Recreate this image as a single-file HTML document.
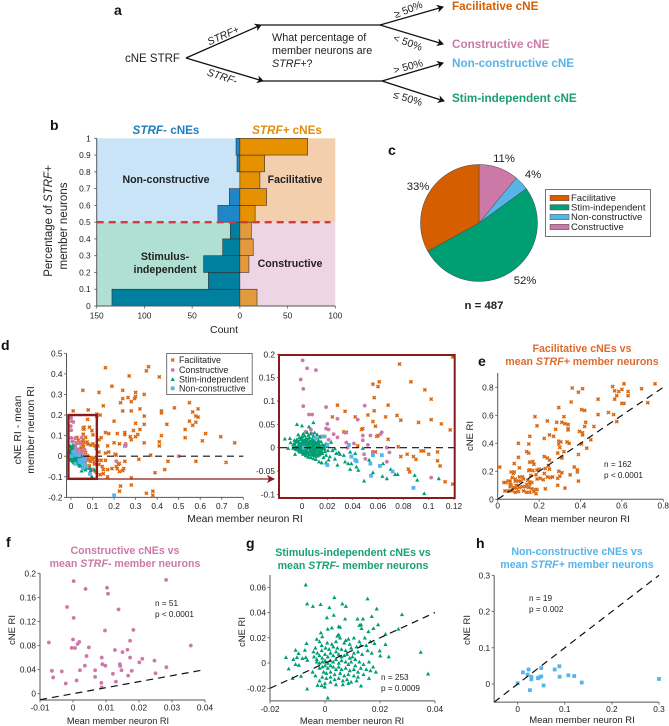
<!DOCTYPE html>
<html lang="en">
<head>
<meta charset="utf-8">
<title>cNE classification figure</title>
<style>
html,body{margin:0;padding:0;background:#fff;}
svg{display:block;font-family:"Liberation Sans",Arial,sans-serif;filter:blur(0.3px);}
text{fill:#222;}
.panel{font-size:14px;font-weight:bold;fill:#111;}
.tb{font-weight:bold;font-size:10.6px;}
.ob{font-weight:bold;font-size:11.7px;}
</style>
</head>
<body>
<svg id="fig" xmlns="http://www.w3.org/2000/svg" width="669" height="726" viewBox="0 0 669 726">
<defs>
<marker id="stealth" markerWidth="8" markerHeight="8" refX="6" refY="4" orient="auto" markerUnits="userSpaceOnUse">
<path d="M0,0 L7,4 L0,8 L2,4 Z" fill="#111"></path>
</marker>
<marker id="redArrow" markerWidth="9" markerHeight="9" refX="7" refY="4.5" orient="auto" markerUnits="userSpaceOnUse">
<path d="M0,0.5 L8,4.5 L0,8.5 L2,4.5 Z" fill="#8b1a1a"></path>
</marker>
</defs>

<g>
<text class="panel" x="114" y="15">a</text>
<text x="125" y="62" font-size="11.5">cNE STRF</text>
<g fill="none" stroke="#111" stroke-width="1.3">
<path d="M186,58 L261,25" marker-end="url(#stealth)"></path>
<path d="M186,58 L263,81" marker-end="url(#stealth)"></path>
<path d="M261,25 L380,25"></path>
<path d="M263,81 L382,81"></path>
<path d="M380,25 L443,7" marker-end="url(#stealth)"></path>
<path d="M380,25 L443,44" marker-end="url(#stealth)"></path>
<path d="M382,81 L443,63" marker-end="url(#stealth)"></path>
<path d="M382,81 L444,101" marker-end="url(#stealth)"></path>
</g>
<text x="223" y="39" font-size="10.5" font-style="italic" text-anchor="middle" transform="rotate(-24 223 35)">STRF+</text>
<text x="222" y="80" font-size="10.5" font-style="italic" text-anchor="middle" transform="rotate(18 222 77)">STRF-</text>
<text x="272" y="41" font-size="10.8">What percentage of</text>
<text x="272" y="54" font-size="10.8">member neurons are</text>
<text x="272" y="67" font-size="10.8"><tspan font-style="italic">STRF+</tspan>?</text>
<text x="408" y="13" font-size="10.5" text-anchor="middle" transform="rotate(-22 408 9)">≥ 50%</text>
<text x="408" y="46" font-size="10.5" text-anchor="middle" transform="rotate(20 408 42)">&lt; 50%</text>
<text x="408" y="70" font-size="10.5" text-anchor="middle" transform="rotate(-15 408 66)">&gt; 50%</text>
<text x="408" y="102" font-size="10.5" text-anchor="middle" transform="rotate(17 408 98)">≤ 50%</text>
<text x="452" y="10" class="ob" style="fill:#d55e00">Facilitative cNE</text>
<text x="452" y="48" class="ob" style="fill:#cc79a7">Constructive cNE</text>
<text x="452" y="67" class="ob" style="fill:#56b4e9">Non-constructive cNE</text>
<text x="452" y="102" class="ob" style="fill:#1a9e77">Stim-independent cNE</text>
</g>

<g id="panelB">
<text class="panel" x="50" y="130">b</text>
</g>
<g>
<text x="166" y="134" class="ob" text-anchor="middle" style="fill:#1f7fbf"><tspan font-style="italic">STRF-</tspan> cNEs</text>
<text x="287" y="134" class="ob" text-anchor="middle" style="fill:#e08e0b"><tspan font-style="italic">STRF+</tspan> cNEs</text>
<text x="166" y="183" font-size="10.6" font-weight="bold" text-anchor="middle">Non-constructive</text>
<text x="295" y="183" font-size="10.6" font-weight="bold" text-anchor="middle">Facilitative</text>
<text x="165" y="260" font-size="10.6" font-weight="bold" text-anchor="middle">Stimulus-</text>
<text x="165" y="273" font-size="10.6" font-weight="bold" text-anchor="middle">independent</text>
<text x="290" y="267" font-size="10.6" font-weight="bold" text-anchor="middle">Constructive</text>
<text x="224" y="333" font-size="10.5" text-anchor="middle">Count</text>
<text transform="translate(52 221) rotate(-90)" font-size="11.5" text-anchor="middle">Percentage of <tspan font-style="italic">STRF+</tspan></text>
<text transform="translate(67 226) rotate(-90)" font-size="11.5" text-anchor="middle">member neurons</text>
</g>

<g id="panelC">
<text class="panel" x="388" y="155">c</text>
<text x="484" y="309" font-size="11.4" font-weight="bold" text-anchor="middle">n = 487</text>
<rect x="545.5" y="189.5" width="105" height="47" fill="#fff" stroke="#777"></rect>
</g>

<g id="panelD">
<text class="panel" x="1" y="350">d</text>
<text transform="translate(21 430) rotate(-90)" font-size="10.5" text-anchor="middle">cNE RI - mean</text>
<text transform="translate(34 430) rotate(-90)" font-size="10.5" text-anchor="middle">member neuron RI</text>
<text x="245" y="522" font-size="10.4" text-anchor="middle">Mean member neuron RI</text>
</g>

<g id="panelE">
<text class="panel" x="478" y="366">e</text>
<text x="582" y="352" class="tb" text-anchor="middle" style="fill:#dd6b2c">Facilitative cNEs vs</text>
<text x="582" y="365" class="tb" text-anchor="middle" style="fill:#dd6b2c">mean <tspan font-style="italic">STRF+</tspan> member neurons</text>
<text transform="translate(473 436) rotate(-90)" font-size="9.5" text-anchor="middle">cNE RI</text>
<text x="577" y="522" font-size="9.5" text-anchor="middle">Mean member neuron RI</text>
<text x="604" y="467" font-size="8.2">n = 162</text>
<text x="604" y="478" font-size="8.2">p &lt; 0.0001</text>
</g>

<g id="panelF">
<text class="panel" x="6" y="547">f</text>
<text x="125" y="554" class="tb" text-anchor="middle" style="fill:#cc79a7">Constructive cNEs vs</text>
<text x="125" y="567" class="tb" text-anchor="middle" style="fill:#cc79a7">mean <tspan font-style="italic">STRF-</tspan> member neurons</text>
<text transform="translate(15 630) rotate(-90)" font-size="9.5" text-anchor="middle">cNE RI</text>
<text x="118" y="724" font-size="9.2" text-anchor="middle">Mean member neuron RI</text>
<text x="155" y="606" font-size="8.2">n = 51</text>
<text x="155" y="617" font-size="8.2">p &lt; 0.0001</text>
</g>

<g id="panelG">
<text class="panel" x="246" y="548">g</text>
<text x="353" y="556" class="tb" text-anchor="middle" style="fill:#1a9e77">Stimulus-independent cNEs vs</text>
<text x="353" y="569" class="tb" text-anchor="middle" style="fill:#1a9e77">mean <tspan font-style="italic">STRF-</tspan> member neurons</text>
<text transform="translate(245 632) rotate(-90)" font-size="9.5" text-anchor="middle">cNE RI</text>
<text x="352" y="724" font-size="9.4" text-anchor="middle">Mean member neuron RI</text>
<text x="381" y="680" font-size="8.2">n = 253</text>
<text x="381" y="691" font-size="8.2">p = 0.0009</text>
</g>

<g id="panelH">
<text class="panel" x="476" y="548">h</text>
<text x="577" y="555" class="tb" text-anchor="middle" style="fill:#56b4e9">Non-constructive cNEs vs</text>
<text x="577" y="568" class="tb" text-anchor="middle" style="fill:#56b4e9">mean <tspan font-style="italic">STRF+</tspan> member neurons</text>
<text transform="translate(470 630) rotate(-90)" font-size="9.5" text-anchor="middle">cNE RI</text>
<text x="582" y="723" font-size="9.5" text-anchor="middle">Mean member neuron RI</text>
<text x="529" y="601" font-size="8.2">n = 19</text>
<text x="529" y="612" font-size="8.2">p = 0.002</text>
</g>
</svg>

<script>
// ---------- Panel b: histogram data ----------
const binEdges = [0, 0.1, 0.2, 0.3, 0.4, 0.5, 0.6, 0.7, 0.8, 0.9, 1];
const strfMinusCounts = [134, 33, 38, 18, 10, 23, 11, 0, 3, 4];
const strfPlusCounts = [18, 0, 9.5, 14, 12, 16, 28, 21, 26, 71];
const bTicksX = [150, 100, 50, 0, 50, 100];
const bTickSigned = [-150, -100, -50, 0, 50, 100];
const bTicksY = [0, 0.1, 0.2, 0.3, 0.4, 0.5, 0.6, 0.7, 0.8, 0.9, 1];
const bThreshold = 0.5;

// ---------- Panel c: pie data ----------
const pieLabels = ['Constructive', 'Non-constructive', 'Stim-independent', 'Facilitative'];
const pieValues = [11, 4, 52, 33];
const pieText = ['11%', '4%', '52%', '33%'];
const legendOrder = ['Facilitative', 'Stim-independent', 'Non-constructive', 'Constructive'];

// ---------- Panel d: RI difference scatter (shared by main plot and inset) ----------
const dTicksX = [0, 0.1, 0.2, 0.3, 0.4, 0.5, 0.6, 0.7, 0.8];
const dTicksY = [-0.2, -0.1, 0, 0.1, 0.2, 0.3, 0.4, 0.5];
const insetTicksX = [0, 0.02, 0.04, 0.06, 0.08, 0.1, 0.12];
const insetTicksY = [-0.1, -0.05, 0, 0.05, 0.1, 0.15, 0.2];
const dFacilitative = [[.16,.43],[.36,.435],[.35,.415],[.27,.39],[.41,.385],[.19,.34],[.24,.32],[.055,.32],[.13,.31],[.30,.31],[.34,.30],[.30,.29],[.295,.28],[.265,.285],[.24,.28],[.23,.26],[.28,.265],[.55,.26],[.15,.245],[.48,.235],[.59,.23],[.32,.23],[.01,.22],[.08,.225],[.24,.22],[.28,.22],[.42,.22],[.42,.21],[.565,.215],[.34,.195],[.58,.195],[.59,.19],[.12,.205],[.135,.2],[.20,.17],[.55,.17],[.58,.165],[.565,.15],[.30,.16],[.34,.155],[.445,.155],[.32,.13],[.29,.125],[.53,.13],[.16,.115],[.175,.11],[.215,.11],[.25,.115],[.25,.105],[.31,.105],[.30,.095],[.275,.095],[.28,.08],[.42,.10],[.625,.11],[.53,.09],[.695,.095],[.61,.075],[.41,.07],[.34,.065],[.41,.05],[.76,.065],[.20,.065],[.225,.06],[.17,.05],[.25,.05],[.16,.015],[.175,.02],[.205,.01],[.21,.005],[.37,.005],[.315,-.015],[.25,-.025],[.225,-.035],[.22,-.04],[.45,-.025],[.58,-.025],[.72,-.03],[.16,-.02],[.19,-.06],[.15,-.065],[.15,-.085],[.17,-.065],[.21,-.05],[.215,-.06],[.225,-.075],[.24,-.07],[.245,-.06],[.435,-.065],[.39,-.08],[.17,-.10],[.28,-.105],[.28,-.14],[.23,-.145],[.225,-.17],[.35,-.18],[.38,-.17],[.38,-.19],
[.077,.179],[.086,.141],[.056,.136],[.061,.141],[.060,.131],[.097,.124],[.102,.104],[.057,.107],[.068,.091],[.028,.091],[.034,.078],[.057,.079],[.024,.066],[.042,.066],[.052,.07],[.066,.066],[.075,.069],[.078,.059],[.056,.056],[.092,.054],[.102,.06],[.11,.051],[.117,.038],[.058,.046],[.048,.041],[.047,.039],[.033,.034],[.035,.033],[.068,.018],[.059,.024],[.060,.026],[.076,.002],[.044,.004],[.056,-.009],[.058,-.009],[.078,-.019],[.083,-.014],[.088,-.019],[.09,-.025],[.094,-.007],[.096,-.007],[.1,-.014],[.107,-.009],[.107,-.028],[.109,-.039],[.084,-.046],[.085,-.052],[.113,-.073],[.119,-.078],[.119,.194],[.13,.08],[.125,.05],[.13,.02],[.125,-.02],[.13,-.04],[.14,-.02],[.145,-.05],[.135,-.09],[.14,.09]];
const dConstructive = [[.0005,.187],[.004,.17],[.011,.166],[-.001,.146],[.001,.126],[.001,.089],[.019,.087],[.0055,.071],[.008,.071],[.028,.062],[.02,.051],[.019,.041],[.021,.039],[.007,.039],[.0075,.031],[.003,.034],[.025,.029],[.028,.022],[.018,.024],[.015,.024],[.0495,.09],[.044,.06],[.034,.032],[.048,.026],[.054,.026],[.063,.033],[.062,.029],[.048,.016],[.052,.006],[.041,.009],[.036,0],[.067,0],[.069,-.01],[.056,-.009],[.049,-.014],[.05,-.024],[.067,-.03],[.102,-.064],[.035,.011],[.021,.017],[.5,0],[.254,.06],[.21,-.024],[.254,.05]];
const dStimIndependent = [[-.004,.05],[0,.047],[.009,.054],[.0055,.045],[-.0135,.019],[-.0095,.02],[-.009,.011],[-.0055,-.014],[-.011,-.001],[-.007,-.001],[.0135,-.03],[.0155,-.032],[.019,-.032],[.021,-.026],[.028,-.037],[.026,-.024],[.027,-.012],[.029,-.01],[.03,-.014],[.033,-.016],[.034,-.03],[.0365,-.034],[.039,-.034],[.038,-.046],[.043,-.041],[.0445,-.048],[.049,-.071],[.053,-.026],[.056,-.053],[.064,-.034],[.0635,-.061],[.067,-.066],[.07,-.046],[.0735,-.057],[.0755,-.057],[.089,-.059],[.091,-.069],[.0965,-.098],[.108,-.066],[.048,-.001],[.038,-.009],[.042,-.012],
[-.003,.028],[-.002,.022],[-.001,.018],[0,.024],[.001,.03],[.002,.026],[.003,.02],[.004,.033],[.005,.027],[.006,.022],[.007,.03],[.008,.018],[.009,.025],[.01,.032],[.011,.021],[.012,.028],[.013,.016],[.014,.023],[-.006,.016],[-.004,.012],[-.002,.01],[0,.014],[.001,.011],[.002,.016],[.003,.008],[.004,.013],[.005,.01],[.006,.015],[.007,.009],[.008,.012],[.009,.006],[.01,.014],[.011,.009],[.012,.004],[.013,.011],[.014,.005],[.015,.013],[.016,.007],[-.007,.006],[-.005,.003],[-.003,.005],[-.001,.002],[0,.006],[.001,.001],[.002,.004],[.003,0],[.004,.005],[.005,-.001],[.006,.003],[.007,-.002],[.008,.004],[.009,-.003],[.01,.002],[.011,-.004],[.012,-.001],[.013,.001],[.015,-.003],[.017,.002],[.018,-.002],[.02,.003],[-.004,-.004],[-.002,-.003],[0,-.006],[.001,-.008],[.002,-.005],[.003,-.01],[.004,-.007],[.005,-.012],[.006,-.008],[.007,-.014],[.008,-.01],[.009,-.016],[.01,-.011],[.011,-.018],[.012,-.013],[.013,-.009],[.014,-.015],[.016,-.012],[.018,-.008],[.019,-.016],[.001,-.014],[.003,-.017],[.005,-.02],[.007,-.021],[.009,-.023],[.011,-.025],[.017,-.021],[.022,-.019],[.024,-.006],[.023,.012],[.026,-.002],
[-.006,.009],[-.005,.013],[-.004,.018],[-.003,.014],[-.002,.006],[-.001,.009],[-.0005,.021],[.0005,.018],[.0015,.007],[.0025,.012],[.0035,.016],[.0045,.019],[.0055,.005],[.0065,.011],[.0075,.014],[.0085,.008],[.0095,.017],[.0105,.011],[.0115,.006],[.0125,.014],[-.005,-.003],[-.0035,-.001],[-.0025,-.007],[-.0015,-.009],[-.0005,-.004],[.0005,-.011],[.0015,-.003],[.0025,-.013],[.0035,-.004],[.0045,-.009],[.0055,-.015],[.0065,-.006],[.0075,-.012],[.0085,-.005],[.0095,-.008],[.0105,-.014],[.0115,-.007],[.0125,-.017],[.0135,-.006],[.0145,-.011],[.0155,-.008],[.0165,-.002],[.0175,.005],[.019,.009],[.0205,-.006],[.014,.002],[.0125,.007],[.0115,.001],[.0065,.001],[.0035,.003],[.0015,.003],[-.0015,-.001],[.004,.0],[.008,.001],[.01,-.001]];
const dNonConstructive = [[.0015,0],[.011,.02],[.0175,.024],[.02,.006],[.02,-.037],[.037,.006],[.039,-.019],[.042,-.026],[.043,-.029],[.054,-.034],[.056,-.016],[.063,-.016],[.0615,-.039],[.0545,-.06],[.0715,-.051],[.088,-.086],[.2,-.19]];

// ---------- Panel e: facilitative ----------
const eTicks = [0, 0.2, 0.4, 0.6, 0.8];
const ePoints = [[.76,.825],[.695,.79],[.725,.69],[.61,.825],[.60,.785],[.555,.805],[.565,.775],[.585,.77],[.63,.77],[.575,.74],[.565,.715],[.63,.74],[.61,.685],[.6,.685],[.485,.715],[.41,.79],[.36,.795],[.39,.765],[.355,.695],[.295,.655],[.405,.64],[.42,.635],[.535,.62],[.56,.605],[.485,.605],[.18,.59],[.32,.59],[.31,.55],[.24,.56],[.285,.55],[.325,.54],[.34,.535],[.19,.525],[.425,.55],[.42,.52],[.465,.52],[.34,.505],[.34,.495],[.28,.5],[.575,.555],[.395,.485],[.41,.475],[.41,.46],[.25,.46],[.225,.435],[.27,.45],[.155,.45],[.15,.395],[.1,.4],[.295,.415],[.305,.41],[.335,.41],[.345,.4],[.295,.395],[.405,.395],[.45,.425],[.43,.365],[.3,.37],[.29,.33],[.32,.34],[.15,.33],[.14,.34],[.1,.30],[.155,.265],[.17,.27],[.175,.25],[.08,.255],[.105,.225],[.225,.305],[.24,.295],[.25,.28],[.245,.24],[.23,.22],[.31,.3],[.31,.295],[.39,.32],[.37,.23],[.385,.195],[.385,.21],[.35,.175],[.39,.13],[.325,.08],[.29,.1],[.29,.15],[.3,.165],[.295,.2],[.31,.19],[.255,.155],[.265,.16],[.24,.16],[.22,.14],[.23,.075],[.225,.185],[.25,.215],[.2,.215],[.19,.21],[.185,.175],[.15,.205],[.155,.21],[.17,.205],[.16,.17],[.19,.145],[.205,.15],[.01,.23],[.065,.195],[.075,.185],[.08,.195],[.07,.155],[.085,.145],[.085,.13],[.05,.13],[.06,.13],[.04,.12],[.03,.12],[.105,.16],[.12,.16],[.125,.145],[.1,.13],[.11,.13],[.145,.135],[.155,.125],[.165,.12],[.155,.11],[.14,.105],[.06,.09],[.075,.085],[.08,.08],[.09,.08],[.105,.085],[.12,.09],[.135,.09],[.15,.085],[.165,.075],[.18,.07],[.19,.07],[.185,.04],[.155,.05],[.14,.05],[.125,.06],[.1,.055],[.085,.05],[.07,.06],[.05,.06],[.035,.06],[.065,.1],[.09,.1],[.06,.11],[.175,.055]];

// ---------- Panel f: constructive ----------
const fTicksX = [-0.01, 0, 0.01, 0.02, 0.03, 0.04];
const fTicksY = [0, 0.04, 0.08, 0.12, 0.16, 0.2];
const fPoints = [[.0002,.187],[.0282,.189],[.0038,.174],[.0103,.176],[.0106,.166],[-.0018,.144],[.0138,.14],[.0002,.126],[.0097,.105],[.0183,.106],[0,.09],[-.0073,.085],[.0019,.086],[.0014,.0825],[-.0004,.076],[.0006,.076],[.0048,.077],[.0173,.088],[.0357,.08],[.0127,.0725],[.0165,.073],[.015,.069],[.0041,.0625],[.0087,.06],[.0173,.06],[.021,.058],[.0247,.055],[.0201,.052],[.0089,.049],[.0098,.0465],[.0142,.049],[.0143,.046],[.0036,.0465],[.0283,.044],[-.0064,.038],[-.0034,.037],[.0021,.039],[.0067,.039],[.0147,.039],[.0178,.038],[.0121,.033],[.025,.034],[.0067,.028],[-.006,.027],[.0167,.03],[.0011,.022],[.013,.02],[-.0022,.017],[.0086,.018],[.0087,.0105]];

// ---------- Panel g: stimulus-independent ----------
const gTicksX = [-0.02, 0, 0.02, 0.04];
const gTicksY = [-0.02, 0, 0.02, 0.04, 0.06];
const gPoints = [[-.007,.062],[-.0065,.047],[-.0044,.045],[-.0016,.0465],[.0016,.044],[.0034,.052],[.0063,.047],[.0076,.045],[.0155,.051],[.0188,.043],[.028,.0385],[.017,.037],[.0118,.035],[.0138,.035],[.0007,.036],[.0032,.038],[.0073,.035],[.0125,.030],[.0131,.0305],[.0133,.0275],[.0193,.0305],[.0176,.0275],[.022,.023],[.0267,.027],[.0158,.025],[.0348,.0087],[.0375,-.0085],[.0232,.005],[.0201,.0058],[.0199,.0098],[.022,.0148],[.018,.0156],[.001,-.0275],[-.0065,-.0204],[.0131,-.018],[-.0001,-.0188],[-.0027,-.0175],[-.0012,-.0177],[-.0142,.0045],[-.0132,-.0045],[-.0115,.003],[-.0107,.0103],[-.0102,.0045],[-.0107,-.001],[-.0095,-.0016],[-.0096,.0077],[-.0087,-.0103],[-.0118,-.012],[-.0082,.0037],[-.007,.0045],[-.0073,.0103],[-.0067,.0156],[-.0064,.0024],
[-.003,.019],[-.0015,.024],[-.001,.021],[.001,.027],[.0025,.028],[.005,.029],[.0055,.0285],[.0045,.0215],[.005,.0225],[.0055,.02],[.0075,.018],[.0085,.019],[.0105,.02],[.0125,.017],[.0145,.02],[.0165,.017],[.015,.014],[.013,.014],[.0115,.013],[.009,.015],[.007,.016],[.004,.017],[.0025,.015],[.0008,.016],[-.0012,.014],[-.002,.017],[-.0035,.012],[-.0042,.009],[-.0028,.008],[-.0012,.01],[.0002,.012],[.0015,.011],[.003,.013],[.0045,.012],[.006,.011],[.0075,.01],[.0095,.012],[.0105,.008],[.012,.009],[.0135,.007],[.0155,.01],[.017,.008],[-.004,.005],[-.003,.003],[-.002,.006],[-.001,.004],[0,.007],[.001,.005],[.002,.008],[.003,.006],[.004,.009],[.005,.007],[.006,.005],[.007,.006],[.008,.007],[.009,.004],[.01,.005],[.011,.003],[-.003,.001],[-.002,.0],[-.001,.001],[0,.002],[.001,.0],[.002,.002],[.003,.001],[.004,.003],[.005,.0],[.006,.002],[.0075,.001],[.0085,-.001],[.0095,.001],[.011,-.002],[.0125,.001],[.014,-.001],[.016,.001],[-.002,-.004],[-.001,-.003],[0,-.002],[.001,-.004],[.002,-.002],[.003,-.003],[.004,-.005],[.005,-.003],[.006,-.005],[.0075,-.004],[.009,-.006],[.0105,-.005],[.012,-.007],[.013,-.004],[.015,-.005],[.0165,-.006],[.0175,-.003],[-.0005,-.007],[.0005,-.008],[.002,-.007],[.0035,-.009],[.0055,-.008],[.007,-.01],[.0085,-.009],[.0105,-.01],[.012,-.011],[.014,-.009],[-.001,-.011],[.0005,-.012],[.002,-.011],[.0035,-.013],[.005,-.012],[.0065,-.014],[.008,-.013],[.0095,-.015],[.0115,-.014],[-.002,-.014],[0,-.016],[.002,-.015],[.004,-.017],[.0065,-.017],[.0085,-.016],[-.0035,-.01],[-.0045,-.007],[.0185,-.007],[.016,-.012]];

// ---------- Panel h: non-constructive ----------
const hTicks = [0, 0.1, 0.2, 0.3];
const hPoints = [[0,.002],[.011,.032],[.023,.04],[.021,.026],[.029,.02],[.029,.013],[.026,-.017],[.043,.016],[.045,.018],[.05,.044],[.05,.021],[.055,-.004],[.0785,.04],[.0885,.049],[.089,.02],[.1075,.024],[.12,.022],[.136,.004],[.3,.014]];

// ---------- Colours ----------
const COL = {fac:'#d55e00', con:'#cc79a7', stim:'#009e73', non:'#56b4e9'};
const NS = 'http://www.w3.org/2000/svg';
const TICK_FONT = 8.3;

function make(parent, tag, attrs, text) {
  const el = document.createElementNS(NS, tag);
  for (const k in attrs) el.setAttribute(k, attrs[k]);
  if (text !== undefined) el.textContent = text;
  parent.appendChild(el);
  return el;
}
function tag(el, name) {
  
  
  return el;
}
function linear(d0, d1, r0, r1) {
  return v => r0 + (v - d0) * (r1 - r0) / (d1 - d0);
}
function yAxis(g, sx, sy, ticks, yTop, yBottom, label, name) {
  const x0 = sx;
  tag(make(g, 'line', {x1:x0, x2:x0, y1:yTop, y2:yBottom, stroke:'#555', 'stroke-width':1}), name + '-y-axis');
  ticks.forEach(t => {
    tag(make(g, 'line', {x1:x0 - 2.5, x2:x0, y1:sy(t), y2:sy(t), stroke:'#555', 'stroke-width':0.8}), name + '-y-tick');
    tag(make(g, 'text', {x:x0 - label, y:sy(t) + 3, 'font-size':TICK_FONT, 'text-anchor':'end'}, String(t)), name + '-y-tick-label');
  });
}
function xAxis(g, sx, y0, ticks, xLeft, xRight, baseline, name, texts) {
  tag(make(g, 'line', {x1:xLeft, x2:xRight, y1:y0, y2:y0, stroke:'#555', 'stroke-width':1}), name + '-x-axis');
  ticks.forEach((t, i) => {
    tag(make(g, 'line', {x1:sx(t), x2:sx(t), y1:y0, y2:y0 + 2.5, stroke:'#555', 'stroke-width':0.8}), name + '-x-tick');
    tag(make(g, 'text', {x:sx(t), y:baseline, 'font-size':TICK_FONT, 'text-anchor':'middle'}, texts ? String(texts[i]) : String(t)), name + '-x-tick-label');
  });
}
function facMark(g, x, y) {
  const s = 1.5;
  const m = make(g, 'path', {d:`M${x-s-.4},${y-s-.4}h${2*s+.8}v${2*s+.8}h${-2*s-.8}Z`, fill:'#f2b690', 'fill-opacity':0.55});
  tag(m, 'facilitative-point-halo');
  const p = make(g, 'path', {d:`M${x-s},${y-s}L${x+s},${y+s}M${x-s},${y+s}L${x+s},${y-s}`, stroke:COL.fac, 'stroke-width':1.2, fill:'none'});
  return tag(p, 'facilitative-point');
}
function conMark(g, x, y) {
  return tag(make(g, 'circle', {cx:x, cy:y, r:1.9, fill:COL.con}), 'constructive-point');
}
function stimMark(g, x, y) {
  const s = 2.1;
  return tag(make(g, 'path', {d:`M${x},${y-s}L${x+s},${y+s*0.8}L${x-s},${y+s*0.8}Z`, fill:COL.stim}), 'stim-independent-point');
}
function nonMark(g, x, y) {
  return tag(make(g, 'rect', {x:x-1.9, y:y-1.9, width:3.8, height:3.8, fill:COL.non}), 'non-constructive-point');
}
function dash(g, x1, y1, x2, y2, name) {
  return tag(make(g, 'line', {x1, y1, x2, y2, stroke:'#111', 'stroke-width':1.2, 'stroke-dasharray':'7 5'}), name);
}

// ---------- Draw panel b ----------
(function () {
  const g = document.getElementById('panelB');
  const sx = linear(-150, 100, 96.7, 335.3);
  const sy = linear(0, 1, 306, 138.3);
  const regions = [
    [-150, 0, bThreshold, 1, '#c9e4f6', 'region-bg-non-constructive'],
    [0, 100, bThreshold, 1, '#f3cfae', 'region-bg-facilitative'],
    [-150, 0, 0, bThreshold, '#b0e0d2', 'region-bg-stim-independent'],
    [0, 100, 0, bThreshold, '#eed5e5', 'region-bg-constructive']
  ];
  regions.forEach(r => {
    tag(make(g, 'rect', {x:sx(r[0]), y:sy(r[3]), width:sx(r[1]) - sx(r[0]), height:sy(r[2]) - sy(r[3]), fill:r[4]}), r[5]);
  });
  strfMinusCounts.forEach((c, i) => {
    if (!c) return;
    const lo = binEdges[i], hi = binEdges[i + 1];
    tag(make(g, 'rect', {x:sx(-c), y:sy(hi), width:sx(0) - sx(-c), height:sy(lo) - sy(hi), fill:lo >= bThreshold ? '#1f86c8' : '#007f9f', stroke:'#333', 'stroke-width':0.6}), 'bar-strf-minus');
  });
  strfPlusCounts.forEach((c, i) => {
    if (!c) return;
    const lo = binEdges[i], hi = binEdges[i + 1];
    tag(make(g, 'rect', {x:sx(0), y:sy(hi), width:sx(c) - sx(0), height:sy(lo) - sy(hi), fill:lo >= bThreshold ? '#e69100' : '#e39a3c', stroke:'#333', 'stroke-width':0.6}), 'bar-strf-plus');
  });
  tag(make(g, 'line', {x1:sx(-150), x2:sx(95), y1:sy(bThreshold), y2:sy(bThreshold), stroke:'#d9383a', 'stroke-width':2.4, 'stroke-dasharray':'7 5'}), 'threshold-line');
  yAxis(g, sx(-150), sy, bTicksY, sy(1), sy(0), 6, 'b');
  xAxis(g, sx, sy(0), bTickSigned, sx(-150), sx(100), 318.5, 'b', bTicksX);
})();

// ---------- Draw panel c ----------
(function () {
  const g = document.getElementById('panelC');
  const cx = 479, cy = 223, r = 58.5;
  const colors = {Constructive:COL.con, 'Non-constructive':COL.non, 'Stim-independent':COL.stim, Facilitative:COL.fac};
  const labelPos = [[504, 158], [533, 174], [525, 280], [418, 186]];
  const total = pieValues.reduce((a, b) => a + b, 0);
  let a0 = 0;
  pieValues.forEach((v, i) => {
    const a1 = a0 + v / total * 2 * Math.PI;
    const large = a1 - a0 > Math.PI ? 1 : 0;
    const d = `M${cx},${cy}L${cx + r * Math.sin(a0)},${cy - r * Math.cos(a0)}A${r},${r} 0 ${large} 1 ${cx + r * Math.sin(a1)},${cy - r * Math.cos(a1)}Z`;
    tag(make(g, 'path', {d, fill:colors[pieLabels[i]], stroke:'#444', 'stroke-width':0.5}), 'pie-slice');
    tag(make(g, 'text', {x:labelPos[i][0], y:labelPos[i][1] + 4, 'font-size':11.3, 'text-anchor':'middle'}, pieText[i]), 'pie-label');
    a0 = a1;
  });
  const legendY = [198, 207.3, 217, 227];
  legendOrder.forEach((name, i) => {
    tag(make(g, 'rect', {x:550, y:legendY[i] - 2.7, width:19, height:5.4, fill:colors[name], stroke:'#555', 'stroke-width':0.5}), 'pie-legend-swatch');
    tag(make(g, 'text', {x:571, y:legendY[i] + 3.2, 'font-size':9.5}, name), 'pie-legend-label');
  });
})();

// ---------- Draw panel d ----------
(function () {
  const g = document.getElementById('panelD');
  const sx = linear(0, 0.8, 71, 243.3);
  const sy = linear(0, 0.5, 456.2, 353.3);
  yAxis(g, 66.5, sy, dTicksY, sy(0.5), sy(-0.2), 4, 'd');
  xAxis(g, sx, sy(-0.2), dTicksX, 66.5, sx(0.8), 509, 'd');
  const layer = (pts, fn, sxx, syy, keep) => pts.forEach(p => { if (keep(p)) fn(g, sxx(p[0]), syy(p[1])); });
  const all = () => true;
  layer(dFacilitative, facMark, sx, sy, all);
  layer(dConstructive, conMark, sx, sy, all);
  dash(g, sx(0), sy(0), sx(0.8), sy(0), 'd-zero-line');
  layer(dStimIndependent, stimMark, sx, sy, all);
  layer(dNonConstructive, nonMark, sx, sy, all);
  tag(make(g, 'rect', {x:sx(-0.012), y:sy(0.2), width:sx(0.12) - sx(-0.012), height:sy(-0.11) - sy(0.2), fill:'none', stroke:'#8b1a1a', 'stroke-width':2.4}), 'zoom-region-box');
  tag(make(g, 'line', {x1:sx(0.12), y1:479, x2:274, y2:479, stroke:'#8b1a1a', 'stroke-width':1.2, 'marker-end':'url(#redArrow)'}), 'zoom-arrow');

  // inset axes
  const ix = linear(0, 0.12, 302, 454);
  const iy = linear(0, 0.2, 447.7, 354.3);
  const inRange = p => p[0] >= -0.019 && p[0] <= 0.12 && p[1] >= -0.105 && p[1] <= 0.2;
  insetTicksY.forEach(t => {
    tag(make(g, 'text', {x:275, y:iy(t) + 3, 'font-size':TICK_FONT, 'text-anchor':'end'}, String(t)), 'inset-y-tick-label');
    tag(make(g, 'line', {x1:277, x2:279, y1:iy(t), y2:iy(t), stroke:'#555', 'stroke-width':0.8}), 'inset-y-tick');
  });
  insetTicksX.forEach(t => {
    tag(make(g, 'text', {x:ix(t), y:509, 'font-size':TICK_FONT, 'text-anchor':'middle'}, String(t)), 'inset-x-tick-label');
    tag(make(g, 'line', {x1:ix(t), x2:ix(t), y1:498, y2:500, stroke:'#555', 'stroke-width':0.8}), 'inset-x-tick');
  });
  layer(dFacilitative, facMark, ix, iy, inRange);
  layer(dConstructive, conMark, ix, iy, inRange);
  layer(dStimIndependent, stimMark, ix, iy, inRange);
  layer(dNonConstructive, nonMark, ix, iy, inRange);
  dash(g, 280, iy(0), ix(0.12), iy(0), 'inset-zero-line');
  tag(make(g, 'rect', {x:279, y:355, width:175.7, height:143, fill:'none', stroke:'#8b1a1a', 'stroke-width':2}), 'inset-frame');

  // legend
  tag(make(g, 'rect', {x:166.7, y:353.5, width:85.5, height:41, fill:'#fff', stroke:'#666', 'stroke-width':0.9}), 'scatter-legend-box');
  const ly = [360, 370, 379.3, 388.3];
  const marks = [facMark, conMark, stimMark, nonMark];
  const names = ['Facilitative', 'Constructive', 'Stim-independent', 'Non-constructive'];
  names.forEach((n, i) => {
    marks[i](g, 172.7, ly[i]);
    tag(make(g, 'text', {x:179, y:ly[i] + 3.2, 'font-size':8.9}, n), 'scatter-legend-label');
  });
})();

// ---------- Draw panel e ----------
(function () {
  const g = document.getElementById('panelE');
  const sx = linear(0, 0.8, 497.7, 663.3);
  const sy = linear(0, 0.8, 499.3, 387.3);
  yAxis(g, sx(0), sy, eTicks, 373, sy(0), 4, 'e');
  xAxis(g, sx, sy(0), eTicks, sx(0), sx(0.8), 508.5, 'e');
  ePoints.forEach(p => facMark(g, sx(p[0]), sy(p[1])));
  dash(g, sx(0), sy(0), sx(0.8), sy(0.8), 'e-unity-line');
})();

// ---------- Draw panel f ----------
(function () {
  const g = document.getElementById('panelF');
  const sx = linear(-0.01, 0.04, 40, 205);
  const sy = linear(0, 0.2, 693.7, 573.3);
  yAxis(g, sx(-0.01), sy, fTicksY, sy(0.2), 700, 4, 'f');
  xAxis(g, sx, 700, fTicksX, sx(-0.01), sx(0.04), 710.5, 'f');
  fPoints.forEach(p => conMark(g, sx(p[0]), sy(p[1])));
  dash(g, sx(-0.01), sy(-0.01), sx(0.04), sy(0.04), 'f-unity-line');
})();

// ---------- Draw panel g ----------
(function () {
  const g = document.getElementById('panelG');
  const sx = linear(-0.02, 0.04, 270, 435);
  const sy = linear(-0.02, 0.06, 688.3, 587.3);
  yAxis(g, sx(-0.02), sy, gTicksY, 575, sy(-0.03), 4, 'g');
  xAxis(g, sx, sy(-0.03), gTicksX, sx(-0.02), sx(0.04), 712, 'g');
  gPoints.forEach(p => stimMark(g, sx(p[0]), sy(p[1])));
  dash(g, sx(-0.02), sy(-0.02), sx(0.04), sy(0.04), 'g-unity-line');
})();

// ---------- Draw panel h ----------
(function () {
  const g = document.getElementById('panelH');
  const sx = linear(0, 0.3, 517.7, 659);
  const sy = linear(0, 0.3, 684, 575.3);
  yAxis(g, sx(-0.05), sy, hTicks, sy(0.3), sy(-0.05), 4, 'h');
  xAxis(g, sx, sy(-0.05), hTicks, sx(-0.05), sx(0.3), 712, 'h');
  hPoints.forEach(p => nonMark(g, sx(p[0]), sy(p[1])));
  dash(g, sx(-0.05), sy(-0.05), sx(0.3), sy(0.3), 'h-unity-line');
})();
</script>
</body>
</html>
